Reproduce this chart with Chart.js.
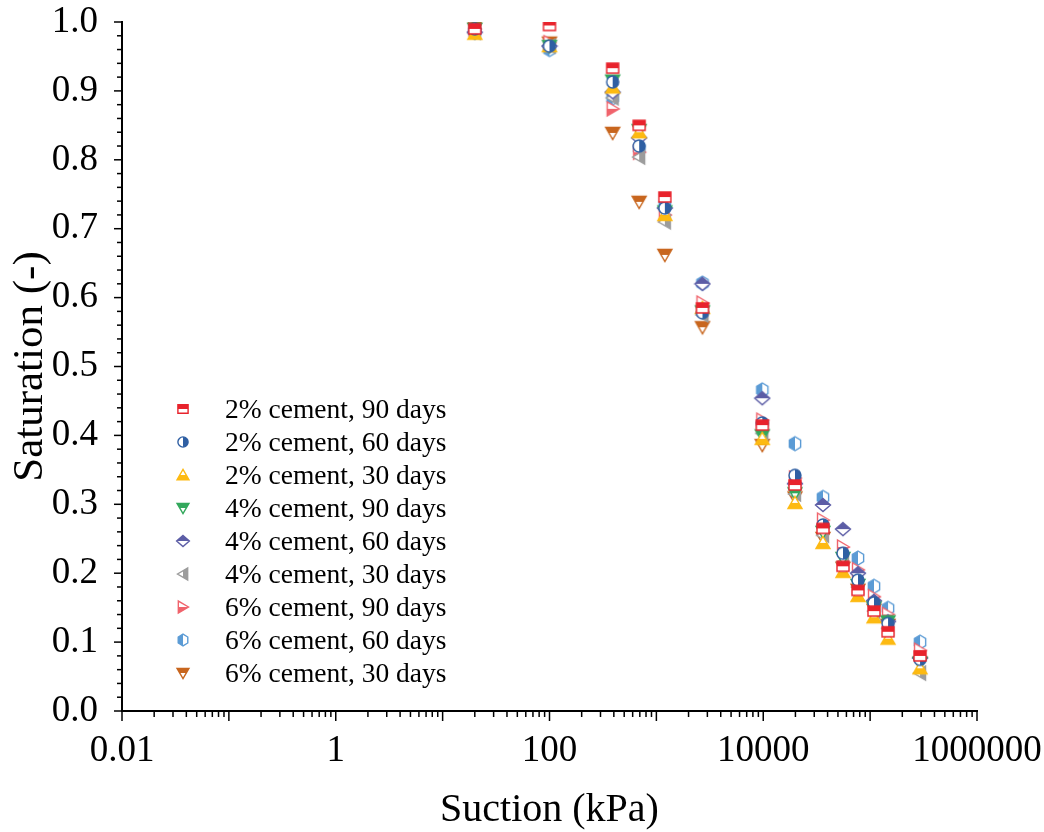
<!DOCTYPE html>
<html>
<head>
<meta charset="utf-8">
<script src="https://cdn.jsdelivr.net/npm/chart.js@4.4.1/dist/chart.umd.min.js"></script>
<style>
html,body{margin:0;padding:0;background:#fff;}
#wrap{position:relative;width:1044px;height:832px;}
#legend{position:absolute;left:170px;top:392px;font-family:"Liberation Serif","Times New Roman",serif;font-size:27.5px;color:#000;}
.row{height:33px;display:flex;align-items:center;white-space:nowrap;}
.mk{width:26px;display:flex;justify-content:center;align-items:center;margin-right:29px;}
</style>
</head>
<body>
<div id="wrap">
<canvas id="c" width="1044" height="832"></canvas>
<div id="legend"></div>
</div>
<script>
// ---- data ----
const suction = [20, 100, 390, 690, 1200, 2700, 9800, 19800, 36200, 55700, 77000, 108700, 147000, 293000];
const labels = ["2% cement, 90 days","2% cement, 60 days","2% cement, 30 days","4% cement, 90 days","4% cement, 60 days","4% cement, 30 days","6% cement, 90 days","6% cement, 60 days","6% cement, 30 days"];
const s2_90 = [0.99, 0.995, 0.933, 0.85, 0.746, 0.585, 0.415, 0.328, 0.265, 0.21, 0.175, 0.145, 0.115, 0.08];
const s2_60 = [0.99, 0.965, 0.913, 0.82, 0.73, 0.578, 0.418, 0.342, 0.27, 0.229, 0.19, 0.157, 0.127, 0.075];
const s2_30 = [0.983, 0.965, 0.905, 0.84, 0.72, 0.585, 0.395, 0.302, 0.244, 0.202, 0.167, 0.136, 0.105, 0.062];
const s4_90 = [0.99, 0.965, 0.915, 0.843, 0.725, 0.58, 0.4, 0.316, 0.26, 0.222, 0.183, 0.15, 0.13, 0.07];
const s4_60 = [0.985, 0.965, 0.898, 0.832, 0.73, 0.62, 0.454, 0.33, 0.299, 0.264, 0.2, 0.16, 0.13, 0.077];
const s4_30 = [0.985, 0.965, 0.89, 0.804, 0.71, 0.575, 0.403, 0.315, 0.255, 0.216, 0.18, 0.145, 0.12, 0.055];
const s6_90 = [0.99, 0.97, 0.874, 0.811, 0.72, 0.592, 0.422, 0.338, 0.277, 0.238, 0.205, 0.166, 0.14, 0.088];
const s6_60 = [0.985, 0.96, 0.89, 0.817, 0.734, 0.621, 0.466, 0.388, 0.31, null, 0.222, 0.181, 0.149, 0.1];
const s6_30 = [0.993, 0.97, 0.839, 0.739, 0.662, 0.557, 0.386, 0.31, 0.251, 0.208, 0.176, 0.147, 0.125, 0.07];
const seriesValues = [s2_90, s2_60, s2_30, s4_90, s4_60, s4_30, s6_90, s6_60, s6_30];
const xTickLabels = [0.01, 1, 100, 10000, 1000000];

// ---- styles ----
const colors = ['#E8232C', '#2F5FA3', '#FDBA12', '#33A85C', '#5C5DA6', '#9C9C9C', '#F0636C', '#5B9BD5', '#C8661E'];
const shapes = ['rect', 'circle', 'triUp', 'triDown', 'diamond', 'triLeft', 'triRight', 'hex', 'triDown'];
const halves = ['top', 'right', 'bottom', 'top', 'top', 'right', 'bottom', 'left', 'top'];

function shapePath(ctx, shape, s) {
  ctx.beginPath();
  if (shape === 'rect') { ctx.rect(-6*s, -5*s, 12*s, 10*s); }
  else if (shape === 'circle') { ctx.arc(0, 0, 6*s, 0, Math.PI*2); }
  else if (shape === 'triUp') { ctx.moveTo(0,-6.5*s); ctx.lineTo(7*s,5.5*s); ctx.lineTo(-7*s,5.5*s); ctx.closePath(); }
  else if (shape === 'triDown') { ctx.moveTo(-7*s,-5.5*s); ctx.lineTo(7*s,-5.5*s); ctx.lineTo(0,6.5*s); ctx.closePath(); }
  else if (shape === 'triLeft') { ctx.moveTo(-6.5*s,0); ctx.lineTo(5.5*s,-7*s); ctx.lineTo(5.5*s,7*s); ctx.closePath(); }
  else if (shape === 'triRight') { ctx.moveTo(6.5*s,0); ctx.lineTo(-5.5*s,-7*s); ctx.lineTo(-5.5*s,7*s); ctx.closePath(); }
  else if (shape === 'diamond') { ctx.moveTo(0,-6.5*s); ctx.lineTo(7.5*s,0); ctx.lineTo(0,6.5*s); ctx.lineTo(-7.5*s,0); ctx.closePath(); }
  else if (shape === 'hex') {
    for (let k = 0; k < 6; k++) { const a = -Math.PI/2 + k*Math.PI/3; const px = 6.5*s*Math.cos(a), py = 7*s*Math.sin(a); if (k===0) ctx.moveTo(px,py); else ctx.lineTo(px,py); }
    ctx.closePath();
  }
}
function makeMarker(shape, color, half, s) {
  const c = document.createElement('canvas');
  const n = Math.ceil(18*s);
  c.width = n; c.height = n;
  const ctx = c.getContext('2d');
  ctx.translate(n/2, n/2);
  shapePath(ctx, shape, s);
  ctx.fillStyle = '#fff'; ctx.fill();
  ctx.save();
  shapePath(ctx, shape, s); ctx.clip();
  ctx.beginPath();
  if (half === 'top') ctx.rect(-n, -n, 2*n, n);
  else if (half === 'bottom') ctx.rect(-n, 0, 2*n, n);
  else if (half === 'left') ctx.rect(-n, -n, n, 2*n);
  else ctx.rect(0, -n, n, 2*n);
  ctx.fillStyle = color; ctx.fill();
  ctx.restore();
  shapePath(ctx, shape, s);
  ctx.lineWidth = 1.4; ctx.strokeStyle = color; ctx.stroke();
  return c;
}

const datasets = seriesValues.map((vals, i) => ({
  label: labels[i],
  data: vals.map((v, j) => v === null ? null : {x: suction[j], y: v}).filter(p => p !== null),
  pointStyle: makeMarker(shapes[i], colors[i], halves[i], 1),
  borderColor: colors[i],
  backgroundColor: colors[i],
  showLine: false
}));

// legend (HTML, real text)
const leg = document.getElementById('legend');
labels.forEach((lab, i) => {
  const row = document.createElement('div'); row.className = 'row';
  const mk = document.createElement('div'); mk.className = 'mk';
  mk.appendChild(makeMarker(shapes[i], colors[i], halves[i], 0.85));
  const t = document.createElement('span'); t.textContent = lab;
  row.appendChild(mk); row.appendChild(t); leg.appendChild(row);
});

const axisTicks = {
  id: 'axisTicks',
  afterDraw(chart) {
    const {ctx, chartArea} = chart; const x = chart.scales.x, y = chart.scales.y;
    ctx.save(); ctx.strokeStyle = '#000'; ctx.lineWidth = 1.5;
    const yb = chartArea.bottom;
    for (let e = -2; e <= 6; e++) {
      for (let m = 1; m <= 9; m++) {
        const v = m * Math.pow(10, e);
        if (v > 1000001) break;
        const px = x.getPixelForValue(v);
        const len = m === 1 ? 10 : 6;
        ctx.beginPath(); ctx.moveTo(px, yb); ctx.lineTo(px, yb + len); ctx.stroke();
      }
    }
    for (let i = 0; i <= 50; i++) {
      const py = y.getPixelForValue(i * 0.02);
      const len = i % 5 === 0 ? 8 : 5;
      ctx.beginPath(); ctx.moveTo(chartArea.left, py); ctx.lineTo(chartArea.left - len, py); ctx.stroke();
    }
    ctx.restore();
  }
};

const serif = "'Liberation Serif', 'Times New Roman', serif";
new Chart(document.getElementById('c'), {
  type: 'scatter',
  data: { datasets },
  options: {
    responsive: false,
    animation: false,
    events: [],
    layout: { padding: { top: 22, right: 67, left: 0, bottom: 0 } },
    plugins: { legend: { display: false }, tooltip: { enabled: false } },
    elements: { point: { radius: 7 } },
    scales: {
      x: {
        type: 'logarithmic', min: 0.01, max: 1000000,
        afterBuildTicks(scale) { scale.ticks = xTickLabels.map(v => ({value: v})); },
        afterFit(scale) { scale.height = 121; scale.paddingLeft = 0; scale.paddingRight = 0; },
        grid: { display: false, drawTicks: false },
        border: { display: true, color: '#000', width: 2 },
        ticks: { autoSkip: false, maxRotation: 0, padding: 18, color: '#000', font: { family: serif, size: 37 },
          callback: (v) => String(v) },
        title: { display: true, text: 'Suction (kPa)', color: '#000', font: { family: serif, size: 40, lineHeight: 1.1 }, padding: { top: 0, bottom: 0 } }
      },
      y: {
        min: 0, max: 1,
        afterFit(scale) { scale.width = 122; scale.paddingTop = 0; scale.paddingBottom = 0; },
        grid: { display: false, drawTicks: false },
        border: { display: true, color: '#000', width: 2 },
        ticks: { stepSize: 0.1, padding: 24, color: '#000', font: { family: serif, size: 37 },
          callback: (v) => Number(v).toFixed(1) },
        title: { display: true, text: 'Saturation (-)', color: '#000', font: { family: serif, size: 43, lineHeight: 1.0 }, padding: { top: 9, bottom: 0 } }
      }
    }
  },
  plugins: [axisTicks]
});
</script>
</body>
</html>
